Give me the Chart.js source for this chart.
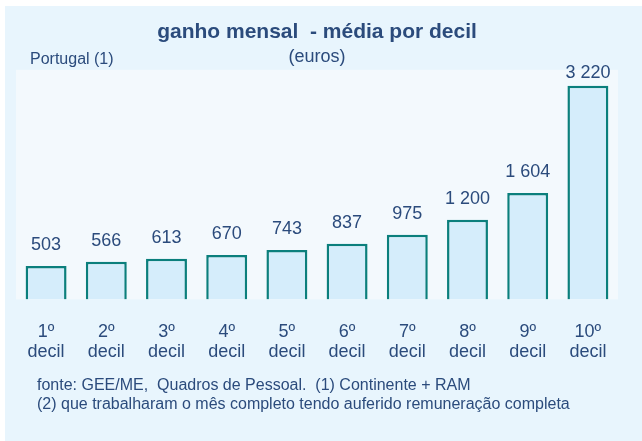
<!DOCTYPE html>
<html>
<head>
<meta charset="utf-8">
<script src="https://cdn.jsdelivr.net/npm/chart.js@4/dist/chart.umd.min.js"></script>
<style>
  body { margin: 0; background: #ffffff; }
  #wrap { width: 642px; height: 441px; }
</style>
</head>
<body>
<div id="wrap"><canvas id="myChart" width="642" height="441"></canvas></div>
<script>
// donnees
const deciles = ["1º", "2º", "3º", "4º", "5º", "6º", "7º", "8º", "9º", "10º"];
const ganhoMedio = [503, 566, 613, 670, 743, 837, 975, 1200, 1604, 3220];
const valueLabels = ["503", "566", "613", "670", "743", "837", "975", "1 200", "1 604", "3 220"];

const textColor = "#2b4b7c";
const fontFamily = "'Liberation Sans', Arial, sans-serif";

// fond bleu clair + zone do grafico
const backgroundPlugin = {
  id: "fundo",
  beforeDraw(chart) {
    const ctx = chart.ctx;
    const a = chart.chartArea;
    ctx.save();
    ctx.fillStyle = "#ffffff";
    ctx.fillRect(0, 0, chart.width, chart.height);
    ctx.fillStyle = "#e8f5fd";
    ctx.fillRect(5, 6, chart.width - 5, chart.height - 6);
    ctx.fillStyle = "#f3f9fd";
    ctx.fillRect(a.left, a.top, a.right - a.left, a.bottom - a.top);
    ctx.restore();
  },
};

// textos extra: Portugal (1), valores e fonte
const textPlugin = {
  id: "textos",
  afterDatasetsDraw(chart) {
    const ctx = chart.ctx;
    ctx.save();
    ctx.fillStyle = textColor;
    ctx.textBaseline = "middle";
    ctx.font = "16px " + fontFamily;
    ctx.textAlign = "left";
    ctx.fillText("Portugal (1)", 30, 60);

    // valores por cima das barras (sem sair da zona do grafico)
    ctx.font = "18px " + fontFamily;
    ctx.textAlign = "center";
    const meta = chart.getDatasetMeta(0);
    meta.data.forEach((bar, i) => {
      const y = Math.max(bar.y - 21, chart.chartArea.top + 3);
      ctx.fillText(valueLabels[i], bar.x, y);
    });

    ctx.font = "16px " + fontFamily;
    ctx.textAlign = "left";
    ctx.fillText("fonte: GEE/ME,  Quadros de Pessoal.  (1) Continente + RAM", 37, 386);
    ctx.fillText("(2) que trabalharam o mês completo tendo auferido remuneração completa", 37, 405);
    ctx.restore();
  },
};

const data = {
  labels: deciles.map((d) => [d, "decil"]),
  datasets: [
    {
      label: "ganho mensal",
      data: ganhoMedio,
      backgroundColor: "#d5edfb",
      borderColor: "#0b7f7c",
      borderWidth: 2.5,
      barPercentage: 0.68,
      categoryPercentage: 1,
    },
  ],
};

const config = {
  type: "bar",
  data: data,
  options: {
    responsive: false,
    animation: false,
    layout: {
      padding: { left: 16, right: 24, top: 0, bottom: 64 },
    },
    plugins: {
      legend: { display: false },
      tooltip: { enabled: false },
      title: {
        display: true,
        text: "ganho mensal  - média por decil",
        color: textColor,
        font: { family: fontFamily, size: 21, weight: "bold" },
        padding: { top: 20, bottom: 0 },
      },
      subtitle: {
        display: true,
        text: "(euros)",
        color: textColor,
        font: { family: fontFamily, size: 18 },
        padding: { top: 1, bottom: 2 },
      },
    },
    scales: {
      x: {
        grid: { display: false },
        border: { display: false },
        ticks: {
          color: textColor,
          font: { family: fontFamily, size: 18, lineHeight: 1.1 },
          maxRotation: 0,
          padding: 15,
        },
      },
      y: {
        display: false,
        min: 0,
        max: 3460,
      },
    },
  },
  plugins: [backgroundPlugin, textPlugin],
};

const context = document.getElementById("myChart").getContext("2d");
const chart = new Chart(context, config);
</script>
</body>
</html>
